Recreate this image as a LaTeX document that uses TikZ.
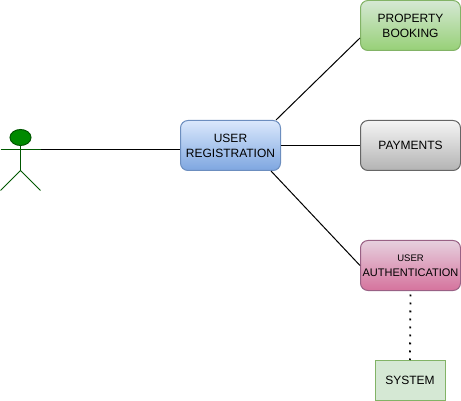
\documentclass[tikz,border=0pt]{standalone}
\usepackage{fontspec}
\setmainfont{Liberation Sans}
\definecolor{greenTop}{HTML}{D5E8D4}
\definecolor{greenBot}{HTML}{97D077}
\definecolor{greenEdge}{HTML}{82B366}
\definecolor{blueTop}{HTML}{DAE8FC}
\definecolor{blueBot}{HTML}{7EA6E0}
\definecolor{blueEdge}{HTML}{6C8EBF}
\definecolor{grayTop}{HTML}{F5F5F5}
\definecolor{grayBot}{HTML}{B3B3B3}
\definecolor{grayEdge}{HTML}{666666}
\definecolor{pinkTop}{HTML}{E6D0DE}
\definecolor{pinkBot}{HTML}{D5739D}
\definecolor{pinkEdge}{HTML}{996185}
\definecolor{actorGreen}{HTML}{008A00}
\definecolor{actorEdge}{HTML}{005700}
\tikzset{
  usecase/.style={draw, rounded corners=7.5pt, minimum width=100pt, minimum height=50pt,
    inner sep=0pt, align=center, font=\fontsize{12}{15}\selectfont, line width=1pt},
  wire/.style={line width=1pt, black}
}
\begin{document}
\begin{tikzpicture}[x=1pt, y=-1pt]
  \useasboundingbox (0,0) rectangle (461,401);

  % Actor
  \draw[line width=1pt, actorEdge, fill=actorGreen] (20.5,137.5) ellipse (10.5 and 8);
  \draw[line width=1pt, actorEdge] (20.5,145.5) -- (20.5,170.5);
  \draw[line width=1pt, actorEdge] (0.5,150) -- (40.5,150);
  \draw[line width=1pt, actorEdge] (0.5,190.5) -- (20.5,170.5) -- (40.5,190.5);
  \coordinate (actorhand) at (40.5,150);

  % Use cases
  \node[usecase, draw=blueEdge, top color=blueTop, bottom color=blueBot] (registration) at (230.5,145.5) {USER\\REGISTRATION};
  \node[usecase, draw=greenEdge, top color=greenTop, bottom color=greenBot] (booking) at (410.5,25.5) {PROPERTY\\BOOKING};
  \node[usecase, draw=grayEdge, top color=grayTop, bottom color=grayBot] (payments) at (410.5,145.5) {PAYMENTS};
  \node[usecase, draw=pinkEdge, top color=pinkTop, bottom color=pinkBot] (authentication) at (410.5,265.5) {{\fontsize{9.5}{15}\selectfont USER}\\{\fontsize{11}{15}\selectfont AUTHENTICATION}};
  \node[draw=greenEdge, fill=greenTop, line width=1pt, minimum width=70pt, minimum height=40pt, inner sep=0pt, font=\fontsize{12}{15}\selectfont] (system) at (410,380.5) {SYSTEM};

  % Connectors
  \draw[wire] (actorhand) -- (actorhand -| registration.west);
  \draw[wire] ([xshift=-5pt]registration.north east) -- ([yshift=-12.5pt]booking.west);
  \draw[wire] (registration.east) -- (payments.west);
  \draw[wire] ([xshift=-10pt]registration.south east) -- (authentication.west);
  \draw[line width=1.8pt, dash pattern=on 1.8pt off 6.2pt] ([yshift=-3.5pt]authentication.south) -- (system.north);
\end{tikzpicture}
\end{document}
